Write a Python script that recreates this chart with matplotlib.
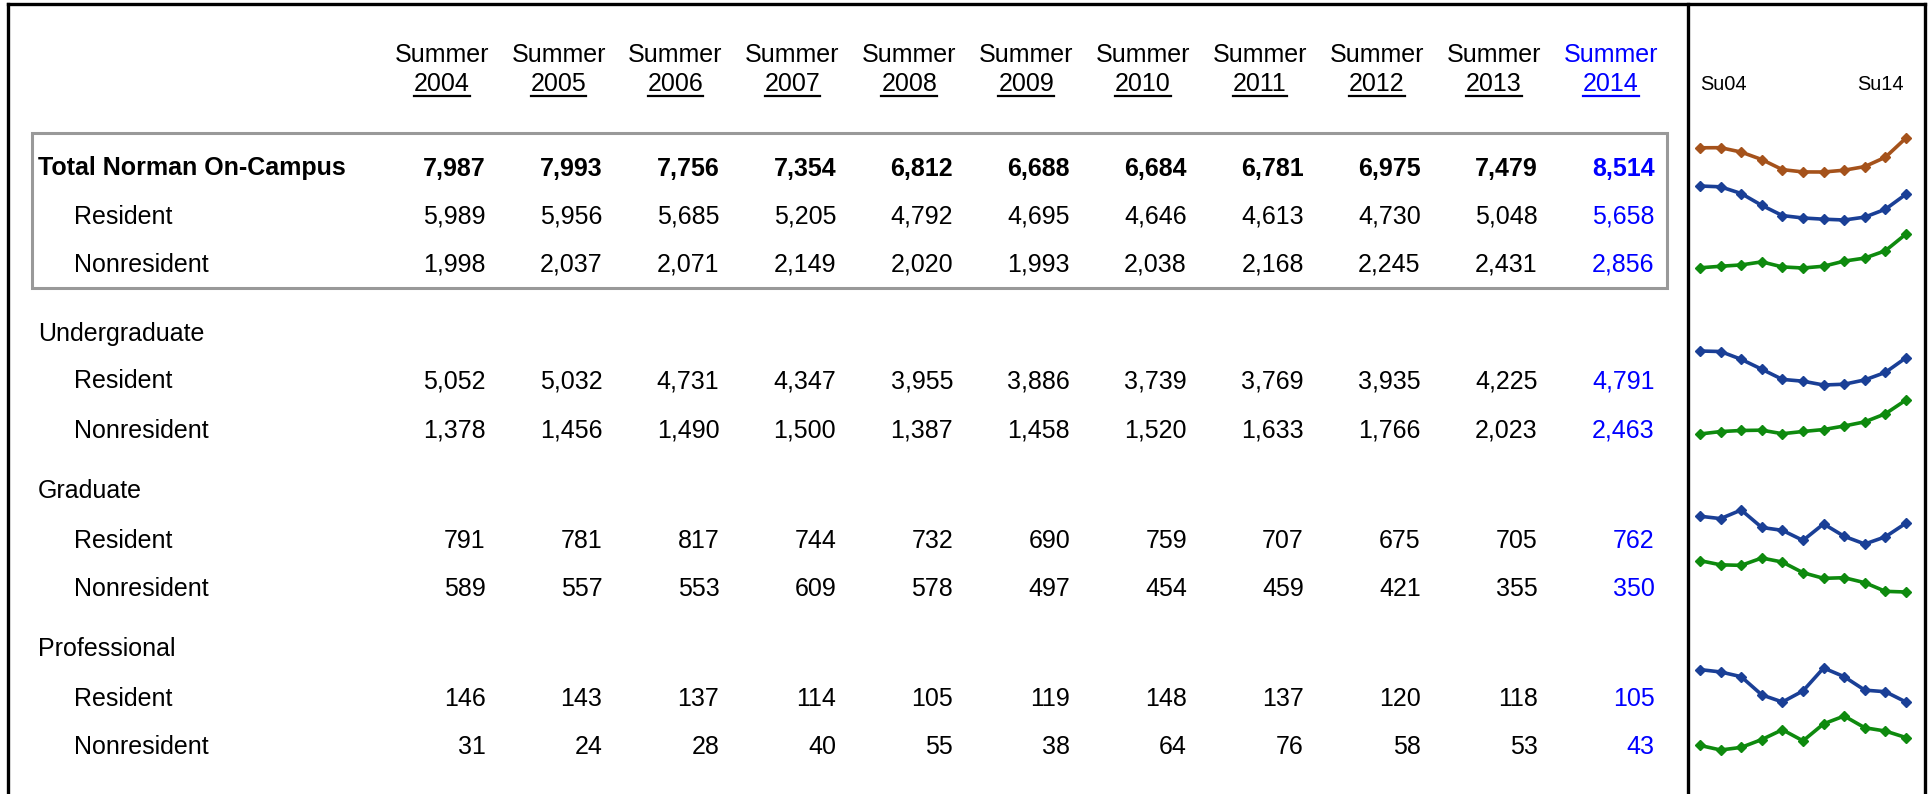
import matplotlib
matplotlib.use("Agg")
import matplotlib.pyplot as plt
from matplotlib import font_manager

# ==========================================
# 1. Data
# ==========================================

years = ["2004", "2005", "2006", "2007", "2008", "2009",
         "2010", "2011", "2012", "2013", "2014"]

row_labels = ["Total Norman On-Campus", "Resident", "Nonresident",
              "Undergraduate", "Resident", "Nonresident",
              "Graduate", "Resident", "Nonresident",
              "Professional", "Resident", "Nonresident"]

total_all = [7987, 7993, 7756, 7354, 6812, 6688, 6684, 6781, 6975, 7479, 8514]
total_res = [5989, 5956, 5685, 5205, 4792, 4695, 4646, 4613, 4730, 5048, 5658]
total_non = [1998, 2037, 2071, 2149, 2020, 1993, 2038, 2168, 2245, 2431, 2856]

ugrad_res = [5052, 5032, 4731, 4347, 3955, 3886, 3739, 3769, 3935, 4225, 4791]
ugrad_non = [1378, 1456, 1490, 1500, 1387, 1458, 1520, 1633, 1766, 2023, 2463]

grad_res = [791, 781, 817, 744, 732, 690, 759, 707, 675, 705, 762]
grad_non = [589, 557, 553, 609, 578, 497, 454, 459, 421, 355, 350]

prof_res = [146, 143, 137, 114, 105, 119, 148, 137, 120, 118, 105]
prof_non = [31, 24, 28, 40, 55, 38, 64, 76, 58, 53, 43]

# one entry per row: values (None for section headings)
row_values = [total_all, total_res, total_non,
              None, ugrad_res, ugrad_non,
              None, grad_res, grad_non,
              None, prof_res, prof_non]

# ==========================================
# 2. Layout / style
# ==========================================

W, H = 1929, 794
DPI = 100

try:
    font_manager.findfont("Liberation Sans Narrow", fallback_to_default=False)
    FONT = ["Liberation Sans Narrow", "DejaVu Sans"]
    FS = 21.5
except Exception:
    FONT = ["Liberation Sans", "DejaVu Sans"]
    FS = 18

plt.rcParams["font.family"] = FONT

row_y = [166, 214, 262, 331, 379, 428, 488, 538, 586, 647, 696, 744]
text_dy = 2.5
col_center0 = 441.7
col_step = 116.9
num_right0 = 485.5

BLUE_TEXT = "#0000FF"
spark_colors = {"total": "#A5521B", "res": "#1A3F96", "non": "#0E8A0E"}

fig = plt.figure(figsize=(W / DPI, H / DPI), dpi=DPI)
ax = fig.add_axes([0, 0, 1, 1])
ax.set_xlim(0, W)
ax.set_ylim(H, 0)
ax.axis("off")

# frame lines
ax.plot([8, 1925], [4, 4], color="black", lw=2.4, solid_capstyle="projecting")
ax.plot([8, 8], [4, H], color="black", lw=2.4)
ax.plot([1688, 1688], [4, H], color="black", lw=2.4)
ax.plot([1925, 1925], [4, H], color="black", lw=2.4)

# grey box around total block
ax.add_patch(plt.Rectangle((32, 133), 1635, 155, fill=False,
                           edgecolor="#999999", lw=2.2))

# ==========================================
# 3. Header
# ==========================================

fig.canvas.draw()
renderer = fig.canvas.get_renderer()
inv = ax.transData.inverted()

for i, year in enumerate(years):
    cx = col_center0 + i * col_step
    color = BLUE_TEXT if year == "2014" else "black"
    ax.text(cx, 55, "Summer", ha="center", va="center",
            fontsize=FS, color=color)
    t = ax.text(cx, 84, year, ha="center", va="center",
                fontsize=FS, color=color)
    bb = t.get_window_extent(renderer)
    (x0, _), (x1, _) = inv.transform([(bb.x0, bb.y0), (bb.x1, bb.y0)])
    ax.plot([x0, x1], [96, 96], color=color, lw=1.6)

ax.text(1700, 84, "Su04", ha="left", va="center", fontsize=FS * 0.8)
ax.text(1904, 84, "Su14", ha="right", va="center", fontsize=FS * 0.8)

# ==========================================
# 4. Table body
# ==========================================

for r, (label, vals) in enumerate(zip(row_labels, row_values)):
    y = row_y[r] + text_dy
    weight = "bold" if r == 0 else "normal"
    indent = label in ("Resident", "Nonresident")
    ax.text(74 if indent else 38, y, label, ha="left", va="center",
            fontsize=FS, fontweight=weight)
    if vals is None:
        continue
    for i, v in enumerate(vals):
        color = BLUE_TEXT if i == len(vals) - 1 else "black"
        ax.text(num_right0 + i * col_step, y, f"{v:,}", ha="right",
                va="center", fontsize=FS, fontweight=weight, color=color)

# ==========================================
# 5. Sparklines
# ==========================================

spark_x0, spark_x1 = 1700, 1906
for r, vals in enumerate(row_values):
    if vals is None:
        continue
    if r == 0:
        color = spark_colors["total"]
    elif row_labels[r] == "Resident":
        color = spark_colors["res"]
    else:
        color = spark_colors["non"]
    top = row_y[r] - 28
    bottom = row_y[r] + 6
    sax = fig.add_axes([spark_x0 / W, 1 - bottom / H,
                        (spark_x1 - spark_x0) / W, (bottom - top) / H])
    sax.plot(range(len(vals)), vals, color=color, lw=2.6,
             marker="D", markersize=5.5, clip_on=False)
    sax.set_xlim(0, len(vals) - 1)
    sax.set_ylim(min(vals), max(vals))
    sax.axis("off")

fig.savefig("out.png", dpi=DPI)
